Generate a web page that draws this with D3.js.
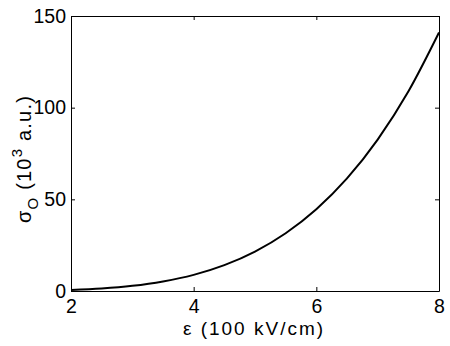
<!DOCTYPE html>
<html>
<head>
<meta charset="utf-8">
<script src="https://cdn.jsdelivr.net/npm/d3@7"></script>
<style>
  body { margin: 0; background: #fff; }
  svg { display: block; font-family: "Liberation Sans", Arial, sans-serif; }
</style>
</head>
<body>
<div id="chart"></div>
<script>
// field values (100 kV/cm) and sigma_O (10^3 a.u.)
const fieldVals = [2, 2.5, 3, 3.5, 4, 4.5, 5, 5.5, 6, 6.5, 7, 7.5, 8];
const sigmaVals = [0.55, 1.35, 2.8, 5.2, 8.8, 14.1, 21.5, 31.5, 44.6, 61.4, 82.6, 108.8, 141];
const xTicks = [2, 4, 6, 8];
const yTicks = [0, 50, 100, 150];

const W = 450, H = 346;
const margin = { top: 16, right: 11, bottom: 55, left: 71 };
const iw = W - margin.left - margin.right;
const ih = H - margin.top - margin.bottom;

const svg = d3.select('#chart').append('svg')
    .attr('width', W)
    .attr('height', H);

const g = svg.append('g')
    .attr('transform', `translate(${margin.left},${margin.top})`);

const x = d3.scaleLinear().domain([2, 8]).range([0, iw]);
const y = d3.scaleLinear().domain([0, 150]).range([ih, 0]);

// axes: ticks inward, mirrored on top and right
const tickLen = 4;
const fmt = d3.format('d');
g.append('g')
    .attr('transform', `translate(0,${ih})`)
    .call(d3.axisBottom(x).tickValues(xTicks).tickFormat(fmt).tickSizeInner(-tickLen).tickSizeOuter(0).tickPadding(8))
    .call(a => a.selectAll('text').attr('dy', '0.71em'));
g.append('g')
    .call(d3.axisTop(x).tickValues(xTicks).tickSizeInner(-tickLen).tickSizeOuter(0).tickFormat(''));
g.append('g')
    .call(d3.axisLeft(y).tickValues(yTicks).tickFormat(fmt).tickSizeInner(-tickLen).tickSizeOuter(0).tickPadding(5));
g.append('g')
    .attr('transform', `translate(${iw},0)`)
    .call(d3.axisRight(y).tickValues(yTicks).tickSizeInner(-tickLen).tickSizeOuter(0).tickFormat(''));

g.selectAll('.domain').attr('stroke', '#000');
g.selectAll('.tick line').attr('stroke', '#000');
g.selectAll('.tick text')
    .attr('fill', '#000')
    .attr('font-size', 19.5)
    .attr('font-family', '"Liberation Sans", Arial, sans-serif');

// curve
const pts = fieldVals.map((v, i) => [v, sigmaVals[i]]);
g.append('path')
    .datum(pts)
    .attr('fill', 'none')
    .attr('stroke', '#000')
    .attr('stroke-width', 2)
    .attr('d', d3.line().x(d => x(d[0])).y(d => y(d[1])).curve(d3.curveMonotoneX));

// x label
svg.append('text')
    .attr('x', 254)
    .attr('y', 335)
    .attr('text-anchor', 'middle')
    .attr('font-size', 19)
    .attr('letter-spacing', 2)
    .text('ε (100 kV/cm)');

// y label with sub/superscript
const yl = svg.append('text')
    .attr('transform', 'translate(31,159) rotate(-90)')
    .attr('text-anchor', 'middle')
    .attr('font-size', 20)
    .attr('letter-spacing', 1.2);
yl.append('tspan').text('σ');
yl.append('tspan').attr('dy', 7).attr('font-size', 15).text('O');
yl.append('tspan').attr('dy', -7).text(' (10');
yl.append('tspan').attr('dy', -9).attr('font-size', 15).text('3');
yl.append('tspan').attr('dy', 9).text(' a.u.)');
</script>
</body>
</html>
